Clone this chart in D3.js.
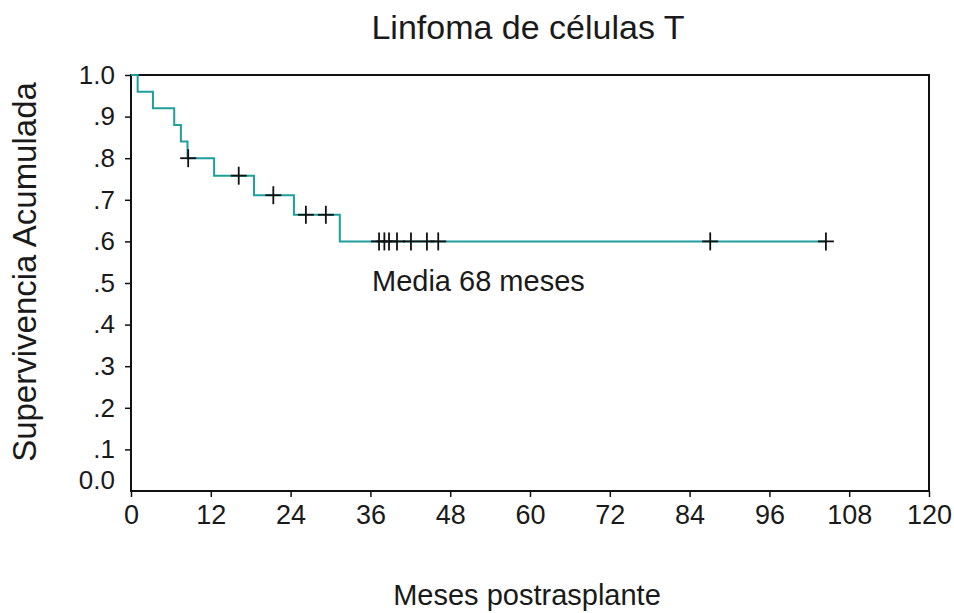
<!DOCTYPE html>
<html>
<head>
<meta charset="utf-8">
<script src="https://cdn.jsdelivr.net/npm/d3@7"></script>
<style>
  body { margin: 0; background: #fff; }
  text { font-family: "Liberation Sans", Arial, sans-serif; fill: #1a1a1a; }
</style>
</head>
<body>
<svg id="chart" width="954" height="613"></svg>
<script>
// Kaplan-Meier steps
const eventMonths = [1.0, 3.3, 6.5, 7.5, 8.5, 12.5, 18.5, 24.5, 31.4];
const survival    = [0.96, 0.92, 0.88, 0.84, 0.80, 0.758, 0.711, 0.664, 0.60];
const censorMonths = [8.6, 16.2, 21.4, 26.3, 29.3, 37.3, 38.1, 38.8, 40.0, 42.1, 44.5, 46.2, 87.1, 104.5];
const lastFollowUp = 104.5;

const xTicks = [0, 12, 24, 36, 48, 60, 72, 84, 96, 108, 120];
const yTicks = [0, 0.1, 0.2, 0.3, 0.4, 0.5, 0.6, 0.7, 0.8, 0.9, 1.0];
const yTickLabels = ["0.0", ".1", ".2", ".3", ".4", ".5", ".6", ".7", ".8", ".9", "1.0"];

const lineColor = "#1f9e9e";

const svg = d3.select("#chart");
const plotLeft = 131, plotRight = 929, plotTop = 75, plotBottom = 491;

const x = d3.scaleLinear().domain([0, 120]).range([plotLeft, plotRight]);
const y = d3.scaleLinear().domain([0, 1]).range([plotBottom, plotTop]);

// frame
svg.append("rect")
    .attr("x", plotLeft).attr("y", plotTop)
    .attr("width", plotRight - plotLeft).attr("height", plotBottom - plotTop)
    .attr("fill", "none").attr("stroke", "#111").attr("stroke-width", 2);

// axes
const xAxis = svg.append("g")
    .attr("transform", `translate(0,${plotBottom})`)
    .call(d3.axisBottom(x).tickValues(xTicks).tickSize(6).tickPadding(8).tickFormat(d3.format("d")));
xAxis.select(".domain").remove();
xAxis.selectAll("line").attr("stroke", "#111").attr("stroke-width", 1.5);
xAxis.selectAll("text").style("font-size", "27px").attr("fill", "#1a1a1a");

const yAxis = svg.append("g")
    .attr("transform", `translate(${plotLeft},0)`)
    .call(d3.axisLeft(y).tickValues(yTicks).tickSize(6).tickPadding(10)
        .tickFormat((d, i) => yTickLabels[i]));
yAxis.select(".domain").remove();
yAxis.selectAll("line").attr("stroke", "#111").attr("stroke-width", 1.5);
yAxis.selectAll("text").style("font-size", "26px").attr("fill", "#1a1a1a");
// SPSS lifts the 0.0 label off the corner
yAxis.selectAll(".tick").filter(d => d === 0)
    .call(g => g.select("line").remove())
    .call(g => g.select("text").attr("y", -11));

// survival curve
const stepData = [[0, 1]].concat(eventMonths.map((t, i) => [t, survival[i]]));
stepData.push([lastFollowUp, survival[survival.length - 1]]);

const line = d3.line()
    .x(d => x(d[0]))
    .y(d => y(d[1]))
    .curve(d3.curveStepAfter);

svg.append("path")
    .datum(stepData)
    .attr("d", line)
    .attr("fill", "none")
    .attr("stroke", lineColor)
    .attr("stroke-width", 2);

// censored marks
function survAt(t) {
    let s = 1;
    eventMonths.forEach((e, i) => { if (e <= t) s = survival[i]; });
    return s;
}

const marks = svg.append("g")
    .attr("stroke", "#111").attr("stroke-width", 1.8);
censorMonths.forEach(t => {
    const cx = x(t), cy = y(survAt(t));
    marks.append("line").attr("x1", cx).attr("x2", cx).attr("y1", cy - 9).attr("y2", cy + 9);
    marks.append("line").attr("x1", cx - 8).attr("x2", cx + 8).attr("y1", cy).attr("y2", cy);
});

// texts
svg.append("text")
    .attr("x", 528).attr("y", 39)
    .attr("text-anchor", "middle")
    .style("font-size", "34px")
    .text("Linfoma de células T");

svg.append("text")
    .attr("x", 372).attr("y", 291)
    .style("font-size", "29px")
    .text("Media 68 meses");

svg.append("text")
    .attr("x", 527).attr("y", 605)
    .attr("text-anchor", "middle")
    .style("font-size", "29px")
    .text("Meses postrasplante");

svg.append("text")
    .attr("transform", "translate(36,272) rotate(-90)")
    .attr("text-anchor", "middle")
    .style("font-size", "33px")
    .text("Supervivencia Acumulada");
</script>
</body>
</html>
